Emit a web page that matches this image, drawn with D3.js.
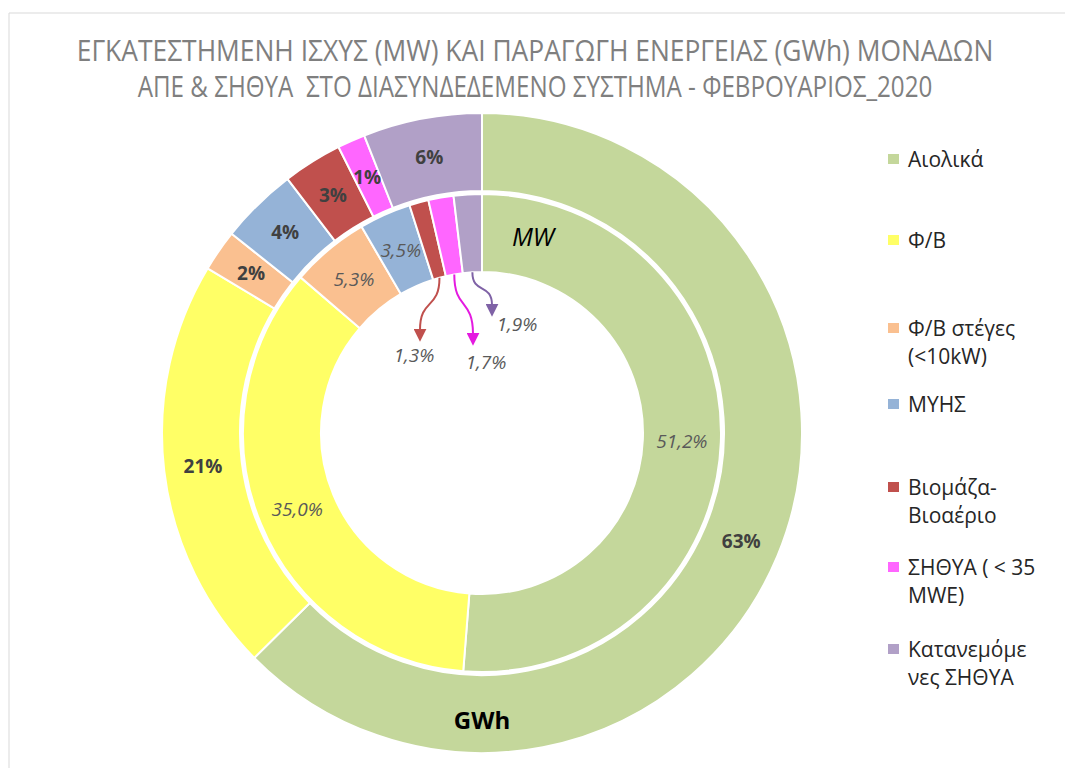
<!DOCTYPE html>
<html>
    <head>
        <meta charset="utf-8">
        <script src="https://cdnjs.cloudflare.com/ajax/libs/d3/7.8.5/d3.min.js"></script>
        <style>
            body { margin: 0; background: #fff; }
            text { font-family: "Open Sans", "DejaVu Sans", sans-serif; }
        </style>
    </head>
    <body>
        <svg id="chart" width="1065" height="768"></svg>
        <script>
            // Data
            var categories = ["Αιολικά", "Φ/Β", "Φ/Β στέγες (<10kW)", "ΜΥΗΣ", "Βιομάζα-Βιοαέριο", "ΣΗΘΥΑ ( < 35 MWE)", "Κατανεμόμενες ΣΗΘΥΑ"];
            var legendLines = [["Αιολικά"], ["Φ/Β"], ["Φ/Β στέγες", "(<10kW)"], ["ΜΥΗΣ"], ["Βιομάζα-", "Βιοαέριο"], ["ΣΗΘΥΑ ( < 35", "MWE)"], ["Κατανεμόμε", "νες ΣΗΘΥΑ"]];
            var gwhShare = [62.6, 21.0, 2.1, 3.9, 3.0, 1.4, 6.0];
            var gwhLabels = ["63%", "21%", "2%", "4%", "3%", "1%", "6%"];
            var mwShare = [51.2, 35.0, 5.3, 3.5, 1.3, 1.7, 1.9];
            var mwLabels = ["51,2%", "35,0%", "5,3%", "3,5%", "1,3%", "1,7%", "1,9%"];
            var colors = ["#C4D79B", "#FFFF66", "#FAC090", "#95B3D7", "#C0504D", "#FF66FF", "#B1A0C7"];
            var arrowColors = ["#C0504D", "#E41AE0", "#7F62A6"];
            var titleLines = ["ΕΓΚΑΤΕΣΤΗΜΕΝΗ ΙΣΧΥΣ (MW) ΚΑΙ ΠΑΡΑΓΩΓΗ ΕΝΕΡΓΕΙΑΣ (GWh) ΜΟΝΑΔΩΝ",
                              "ΑΠΕ & ΣΗΘΥΑ  ΣΤΟ ΔΙΑΣΥΝΔΕΔΕΜΕΝΟ ΣΥΣΤΗΜΑ - ΦΕΒΡΟΥΑΡΙΟΣ_2020"];

            var svg = d3.select("svg#chart");
            var cx = 482, cy = 433;

            // chart area frame
            svg.append("path").attr("d", "M9,780 L9,13 L1075,13").attr("fill", "none").attr("stroke", "#d9d9d9").attr("stroke-width", 1);

            // Title - narrow font look: squeeze horizontally to the reference width
            var titleLen = [917, 795];
            svg.selectAll("text.title").data(titleLines).enter().append("text")
                .attr("class", "title")
                .attr("x", 0).attr("y", 0)
                .attr("text-anchor", "middle")
                .style("font-size", "29px").attr("fill", "#7f7f7f")
                .style("white-space", "pre")
                .text(function(d) { return d; })
                .attr("transform", function(d, i) {
                    var w = this.getComputedTextLength();
                    return "translate(535," + (61 + i * 36) + ") scale(" + (titleLen[i] / w) + ",1)";
                });

            var g = svg.append("g").attr("transform", "translate(" + cx + "," + cy + ")");
            var pie = d3.pie().sort(null).value(function(d) { return d; });

            var outerArc = d3.arc().innerRadius(242).outerRadius(320);
            var innerArc = d3.arc().innerRadius(161).outerRadius(239);

            var outerData = pie(gwhShare);
            var innerData = pie(mwShare);

            // Outer ring (GWh)
            g.selectAll("path.outer").data(outerData).enter().append("path")
                .attr("class", "outer")
                .attr("d", outerArc)
                .attr("fill", function(d, i) { return colors[i]; })
                .attr("stroke", "#fff").attr("stroke-width", 2);

            // Inner ring (MW)
            g.selectAll("path.inner").data(innerData).enter().append("path")
                .attr("class", "inner")
                .attr("d", innerArc)
                .attr("fill", function(d, i) { return colors[i]; })
                .attr("stroke", "#fff").attr("stroke-width", 2);

            // outer labels
            g.selectAll("text.olab").data(outerData).enter().append("text")
                .attr("class", "olab")
                .attr("transform", function(d) { var c = outerArc.centroid(d); return "translate(" + c[0] + "," + (c[1] + 7) + ")"; })
                .attr("text-anchor", "middle")
                .style("font-size", "19px").style("font-weight", "bold").attr("fill", "#404040")
                .text(function(d, i) { return gwhLabels[i]; });

            // inner labels (big slices only)
            g.selectAll("text.ilab").data(innerData.slice(0, 4)).enter().append("text")
                .attr("class", "ilab")
                .attr("transform", function(d) { var c = innerArc.centroid(d); return "translate(" + c[0] + "," + (c[1] + 7) + ")"; })
                .attr("text-anchor", "middle")
                .style("font-size", "19px").style("font-style", "italic").attr("fill", "#595959")
                .text(function(d, i) { return mwLabels[i]; });

            // callouts for small inner slices
            var calloutLabel = [[-68, -71], [4, -64], [35, -102]];
            var calloutTip = [[-62, -90], [-9, -86], [10, -115]];
            var defs = svg.append("defs");
            arrowColors.forEach(function(c, i) {
                defs.append("marker").attr("id", "arrow" + i)
                    .attr("viewBox", "0 0 10 10").attr("refX", 1).attr("refY", 5)
                    .attr("markerUnits", "userSpaceOnUse")
                    .attr("markerWidth", 13).attr("markerHeight", 13)
                    .attr("orient", "auto")
                    .append("path").attr("d", "M0,0 L10,5 L0,10 Z").attr("fill", c);
            });
            innerData.slice(4).forEach(function(d, i) {
                var a = (d.startAngle + d.endAngle) / 2;
                var sx = 161 * Math.sin(a), sy = -161 * Math.cos(a);
                var tx = calloutTip[i][0], ty = calloutTip[i][1] - 13;
                var my = (sy + ty) / 2;
                g.append("path")
                    .attr("d", "M" + sx + "," + sy + " C" + sx + "," + (my + 6) + " " + tx + "," + (my - 6) + " " + tx + "," + ty)
                    .attr("fill", "none").attr("stroke", arrowColors[i]).attr("stroke-width", 2)
                    .attr("marker-end", "url(#arrow" + i + ")");
                g.append("text").attr("x", calloutLabel[i][0]).attr("y", calloutLabel[i][1]).attr("text-anchor", "middle")
                    .style("font-size", "19px").style("font-style", "italic").attr("fill", "#595959")
                    .text(mwLabels[i + 4]);
            });

            // ring names
            g.append("text").attr("x", 51).attr("y", -187).attr("text-anchor", "middle")
                .style("font-size", "25px").style("font-style", "italic").attr("fill", "#000").text("MW");
            g.append("text").attr("x", 0).attr("y", 296).attr("text-anchor", "middle")
                .style("font-size", "24px").style("font-weight", "bold").attr("fill", "#000").text("GWh");

            // Legend
            var legendY = [167, 248, 336, 412, 495, 575, 657];
            var leg = svg.selectAll("g.leg").data(categories).enter().append("g")
                .attr("class", "leg")
                .attr("transform", function(d, i) { return "translate(888," + legendY[i] + ")"; });
            leg.append("rect").attr("x", 0).attr("y", -13).attr("width", 11).attr("height", 10)
                .attr("fill", function(d, i) { return colors[i]; });
            leg.each(function(d, i) {
                var t = d3.select(this).append("text").attr("x", 20).attr("y", 0)
                    .style("font-size", "21px").attr("fill", "#262626");
                legendLines[i].forEach(function(line, j) {
                    t.append("tspan").attr("x", 20).attr("dy", j === 0 ? 0 : 28).text(line);
                });
            });
        </script>
    </body>
</html>
